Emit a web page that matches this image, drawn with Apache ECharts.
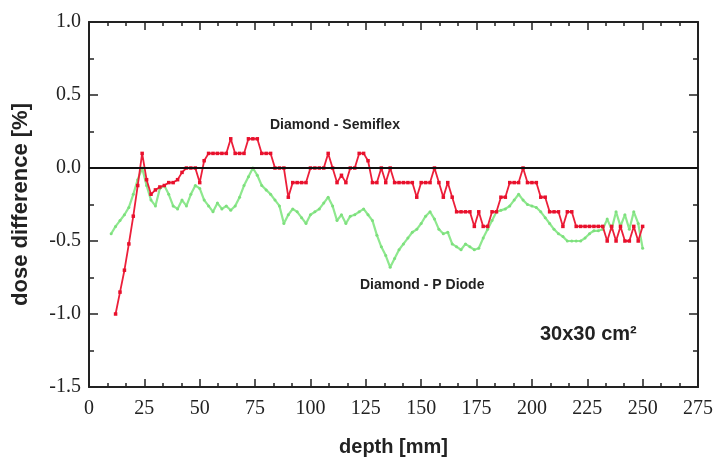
<!DOCTYPE html>
<html>
<head>
<meta charset="utf-8">
<script src="https://cdn.jsdelivr.net/npm/echarts@6/dist/echarts.min.js"></script>
<style>html,body{margin:0;padding:0;background:#fff;}#c{width:717px;height:462px;}</style>
</head>
<body>
<div id="c"></div>
<script>
// depth [mm]
const depth = [10,12,14,16,18,20,22,24,26,28,30,32,34,36,38,40,42,44,46,48,50,52,54,56,58,60,62,64,66,68,70,72,74,76,78,80,82,84,86,88,90,92,94,96,98,100,102,104,106,108,110,112,114,116,118,120,122,124,126,128,130,132,134,136,138,140,142,144,146,148,150,152,154,156,158,160,162,164,166,168,170,172,174,176,178,180,182,184,186,188,190,192,194,196,198,200,202,204,206,208,210,212,214,216,218,220,222,224,226,228,230,232,234,236,238,240,242,244,246,248,250];
// Diamond - Semiflex
const semiflex = [null,-1.00,-0.85,-0.70,-0.52,-0.33,-0.12,0.10,-0.08,-0.18,-0.15,-0.13,-0.12,-0.10,-0.10,-0.08,-0.03,0.0,0.0,0.0,-0.10,0.05,0.10,0.10,0.10,0.10,0.10,0.20,0.10,0.10,0.10,0.20,0.20,0.20,0.10,0.10,0.10,0.0,0.0,0.0,-0.20,-0.10,-0.10,-0.10,-0.10,0.0,0.0,0.0,0.0,0.10,0.0,-0.10,-0.05,-0.10,0.0,0.0,0.10,0.10,0.05,-0.10,-0.10,0.0,-0.10,0.0,-0.10,-0.10,-0.10,-0.10,-0.10,-0.20,-0.10,-0.10,-0.10,0.0,-0.10,-0.20,-0.10,-0.20,-0.30,-0.30,-0.30,-0.30,-0.40,-0.30,-0.40,-0.40,-0.30,-0.30,-0.20,-0.20,-0.10,-0.10,-0.10,0.0,-0.10,-0.10,-0.10,-0.20,-0.20,-0.30,-0.30,-0.30,-0.40,-0.30,-0.30,-0.40,-0.40,-0.40,-0.40,-0.40,-0.40,-0.40,-0.50,-0.40,-0.50,-0.40,-0.50,-0.50,-0.40,-0.50,-0.40];
// Diamond - P Diode
const pdiode = [-0.45,-0.40,-0.36,-0.32,-0.27,-0.18,-0.08,0.0,-0.12,-0.22,-0.26,-0.14,-0.12,-0.18,-0.26,-0.28,-0.22,-0.26,-0.18,-0.12,-0.14,-0.22,-0.26,-0.30,-0.24,-0.28,-0.26,-0.29,-0.26,-0.20,-0.12,-0.06,0.0,-0.05,-0.12,-0.15,-0.18,-0.22,-0.26,-0.38,-0.32,-0.28,-0.30,-0.34,-0.38,-0.32,-0.30,-0.28,-0.24,-0.20,-0.26,-0.36,-0.32,-0.38,-0.33,-0.32,-0.30,-0.28,-0.32,-0.36,-0.46,-0.54,-0.60,-0.68,-0.62,-0.56,-0.52,-0.48,-0.44,-0.42,-0.38,-0.33,-0.30,-0.35,-0.42,-0.45,-0.44,-0.52,-0.54,-0.56,-0.52,-0.54,-0.56,-0.55,-0.48,-0.42,-0.36,-0.30,-0.29,-0.28,-0.26,-0.22,-0.18,-0.22,-0.25,-0.26,-0.27,-0.30,-0.34,-0.38,-0.42,-0.45,-0.47,-0.50,-0.50,-0.50,-0.50,-0.48,-0.45,-0.43,-0.43,-0.42,-0.35,-0.42,-0.30,-0.40,-0.32,-0.42,-0.30,-0.38,-0.55];
const xTicks = [0,25,50,75,100,125,150,175,200,225,250,275];
const yTicks = [-1.5,-1.0,-0.5,0.0,0.5,1.0];

const pair = (ys) => depth.map((d, i) => [d, ys[i]]);
const chart = echarts.init(document.getElementById('c'), null, {renderer: 'canvas'});
const axisLine = {show: true, onZero: false, lineStyle: {color: '#222', width: 2}};
const serif = 'Liberation Serif';
chart.setOption({
  animation: false,
  backgroundColor: '#fff',
  grid: {left: 89, right: 19, top: 22, bottom: 75, containLabel: false, outerBoundsMode: 'none'},
  xAxis: [{
    type: 'value', min: 0, max: 275, interval: 25, position: 'bottom',
    axisLine: axisLine,
    axisTick: {show: true, inside: true, length: 8, lineStyle: {color: '#222', width: 1.5}},
    minorTick: {show: true, splitNumber: 3, length: 4, lineStyle: {color: '#222', width: 1.5}},
    splitLine: {show: false},
    axisLabel: {color: '#222', fontFamily: serif, fontSize: 20, margin: 12,
      formatter: v => xTicks.includes(v) ? String(v) : ''},
    name: 'depth [mm]', nameLocation: 'middle', nameGap: 50,
    nameTextStyle: {fontFamily: 'Liberation Sans', fontWeight: 'bold', fontSize: 20, color: '#222'}
  }, {
    type: 'value', min: 0, max: 275, interval: 25, position: 'top',
    axisLine: axisLine,
    axisTick: {show: true, inside: true, length: 8, lineStyle: {color: '#222', width: 1.5}},
    minorTick: {show: true, splitNumber: 3, length: 4, lineStyle: {color: '#222', width: 1.5}},
    splitLine: {show: false}, axisLabel: {show: false}
  }],
  yAxis: [{
    type: 'value', min: -1.5, max: 1.0, interval: 0.5, position: 'left',
    axisLine: axisLine,
    axisTick: {show: true, inside: true, length: 9, lineStyle: {color: '#222', width: 1.5}},
    minorTick: {show: true, splitNumber: 2, length: 5, lineStyle: {color: '#222', width: 1.5}},
    splitLine: {show: false},
    axisLabel: {color: '#222', fontFamily: serif, fontSize: 20, margin: 8,
      formatter: v => yTicks.some(t => Math.abs(t - v) < 1e-9) ? v.toFixed(1) : ''},
    name: 'dose difference [%]', nameLocation: 'middle', nameGap: 57, nameRotate: 90,
    nameTextStyle: {fontFamily: 'Liberation Sans', fontWeight: 'bold', fontSize: 22, color: '#222'}
  }, {
    type: 'value', min: -1.5, max: 1.0, interval: 0.5, position: 'right',
    axisLine: axisLine,
    axisTick: {show: true, inside: true, length: 9, lineStyle: {color: '#222', width: 1.5}},
    minorTick: {show: true, splitNumber: 2, length: 5, lineStyle: {color: '#222', width: 1.5}},
    splitLine: {show: false}, axisLabel: {show: false}
  }],
  series: [{
    name: 'Diamond - P Diode', type: 'line', data: pair(pdiode),
    symbol: 'circle', symbolSize: 3, showSymbol: true,
    lineStyle: {color: '#8ee88e', width: 2.2},
    itemStyle: {color: '#7ddf7d'},
    z: 2,
    markLine: {
      silent: true, symbol: 'none', label: {show: false},
      lineStyle: {color: '#111', width: 2, type: 'solid'},
      data: [{yAxis: 0}]
    }
  }, {
    name: 'Diamond - Semiflex', type: 'line', data: pair(semiflex),
    symbol: 'rect', symbolSize: 3.5, showSymbol: true, connectNulls: false,
    lineStyle: {color: '#ec1f3a', width: 1.8},
    itemStyle: {color: '#e8102c'},
    z: 3
  }],
  graphic: [
    {type: 'text', left: 270, top: 118, style: {text: 'Diamond - Semiflex', font: 'bold 14px "Liberation Sans"', fill: '#222'}},
    {type: 'text', left: 360, top: 278, style: {text: 'Diamond - P Diode', font: 'bold 14px "Liberation Sans"', fill: '#222'}},
    {type: 'text', left: 540, top: 324, style: {text: '30x30 cm²', font: 'bold 20px "Liberation Sans"', fill: '#222'}}
  ]
});
</script>
</body>
</html>
